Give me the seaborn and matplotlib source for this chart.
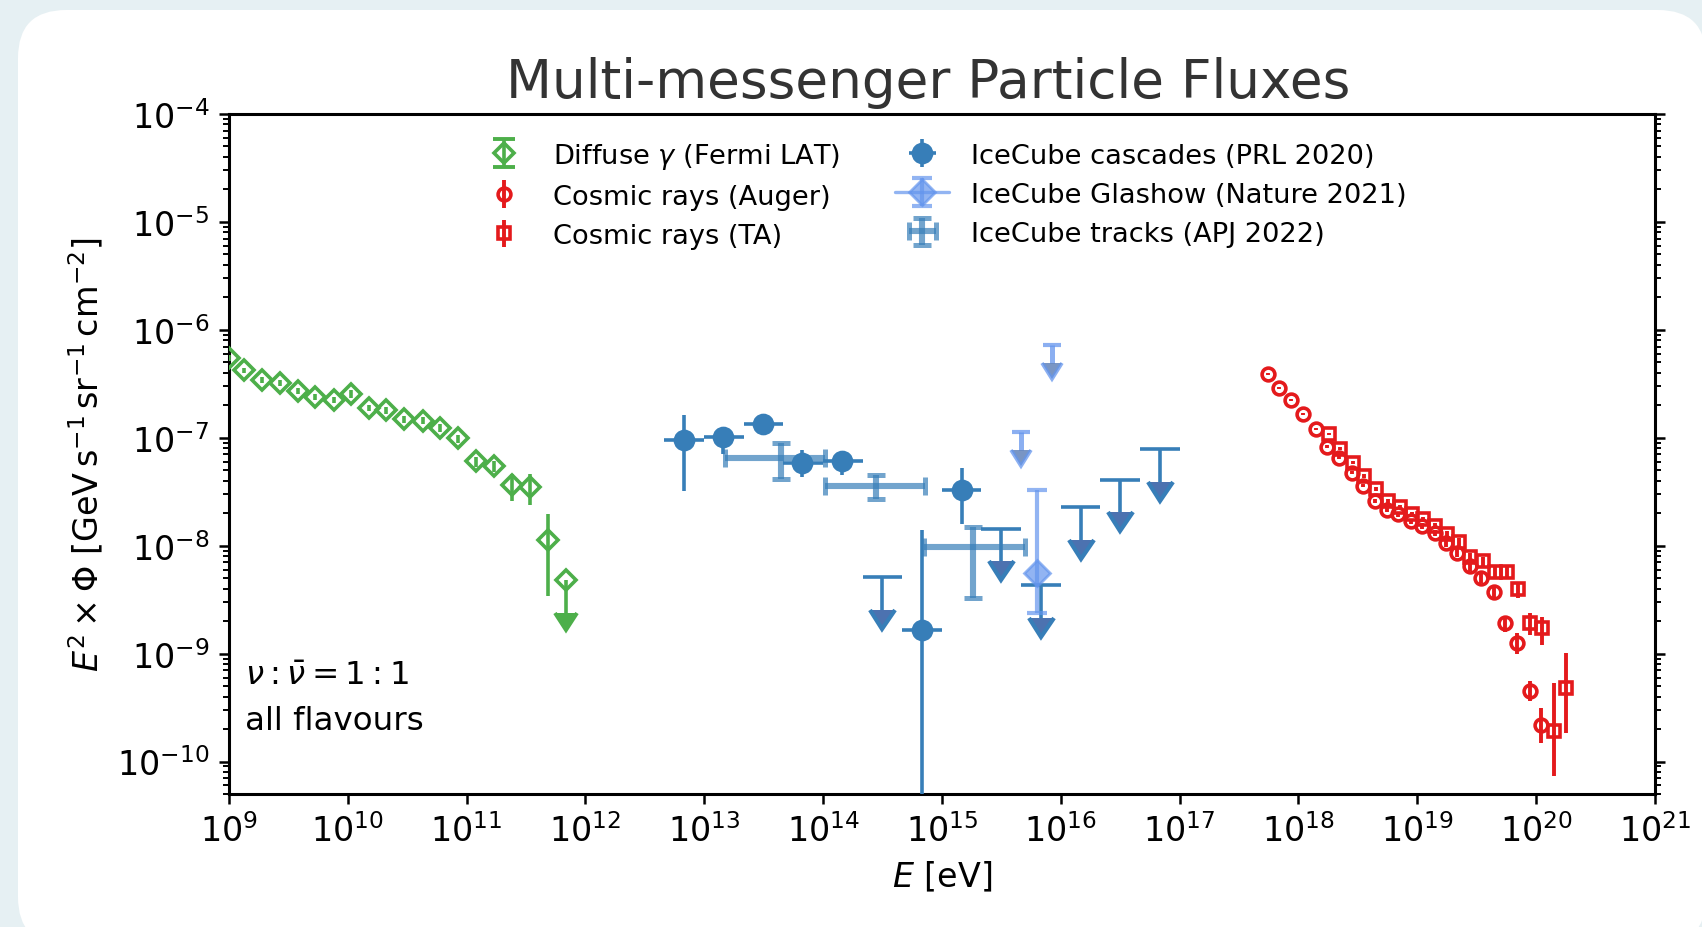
import numpy as np
import matplotlib
matplotlib.use("Agg")
import matplotlib.pyplot as plt
import seaborn as sns
from matplotlib.patches import FancyBboxPatch
from matplotlib.ticker import LogLocator, NullLocator, FixedLocator, LogFormatterMathtext

# ---------------- data ----------------
# Diffuse gamma, Fermi LAT
fermi_E = [1.0e9, 1.35e9, 1.9e9, 2.7e9, 3.8e9, 5.3e9, 7.6e9, 1.07e10, 1.5e10, 2.1e10,
           3.0e10, 4.3e10, 6.0e10, 8.5e10, 1.2e11, 1.7e11, 2.4e11, 3.4e11, 4.8e11, 6.8e11]
fermi_F = [5.47e-7, 4.2e-7, 3.44e-7, 3.2e-7, 2.71e-7, 2.41e-7, 2.25e-7, 2.55e-7, 1.9e-7, 1.79e-7,
           1.49e-7, 1.44e-7, 1.24e-7, 9.86e-8, 6.04e-8, 5.43e-8, 3.62e-8, 3.5e-8, 1.12e-8, 4.8e-9]
fermi_hi = [5.8e-7, 4.45e-7, 3.65e-7, 3.4e-7, 2.88e-7, 2.57e-7, 2.4e-7, 2.75e-7, 2.03e-7, 1.92e-7,
            1.6e-7, 1.55e-7, 1.34e-7, 1.07e-7, 6.7e-8, 6.1e-8, 4.57e-8, 4.57e-8, 1.95e-8, 4.8e-9]
fermi_lo = [5.15e-7, 3.95e-7, 3.23e-7, 3.0e-7, 2.54e-7, 2.25e-7, 2.1e-7, 2.35e-7, 1.77e-7, 1.66e-7,
            1.38e-7, 1.33e-7, 1.14e-7, 9.0e-8, 5.4e-8, 4.8e-8, 2.59e-8, 2.4e-8, 3.4e-9, 2.4e-9]
fermi_uplim = [False] * 19 + [True]

# Cosmic rays, Auger
auger_E = [5.5e17, 6.9e17, 8.7e17, 1.1e18, 1.4e18, 1.75e18, 2.2e18, 2.8e18, 3.5e18, 4.4e18,
           5.6e18, 6.9e18, 8.8e18, 1.1e19, 1.4e19, 1.73e19, 2.17e19, 2.75e19, 3.46e19, 4.4e19,
           5.5e19, 6.9e19, 8.8e19, 1.1e20]
auger_F = [3.87e-7, 2.91e-7, 2.22e-7, 1.65e-7, 1.20e-7, 8.26e-8, 6.53e-8, 4.74e-8, 3.61e-8, 2.62e-8,
           2.13e-8, 1.95e-8, 1.69e-8, 1.52e-8, 1.32e-8, 1.06e-8, 8.6e-9, 6.46e-9, 5.04e-9, 3.73e-9,
           1.92e-9, 1.26e-9, 4.48e-10, 2.19e-10]
auger_hi = [3.95e-7, 2.97e-7, 2.27e-7, 1.69e-7, 1.23e-7, 8.5e-8, 6.75e-8, 4.9e-8, 3.75e-8, 2.73e-8,
            2.23e-8, 2.05e-8, 1.78e-8, 1.62e-8, 1.41e-8, 1.14e-8, 9.3e-9, 7.1e-9, 5.6e-9, 4.2e-9,
            2.25e-9, 1.55e-9, 5.56e-10, 3.13e-10]
auger_lo = [3.79e-7, 2.85e-7, 2.17e-7, 1.61e-7, 1.17e-7, 8.0e-8, 6.3e-8, 4.58e-8, 3.47e-8, 2.51e-8,
            2.03e-8, 1.85e-8, 1.6e-8, 1.42e-8, 1.23e-8, 9.8e-9, 7.9e-9, 5.8e-9, 4.5e-9, 3.25e-9,
            1.6e-9, 1.0e-9, 3.63e-10, 1.48e-10]

# Cosmic rays, Telescope Array
ta_E = [1.79e18, 2.24e18, 2.85e18, 3.57e18, 4.5e18, 5.66e18, 7.1e18, 9.0e18, 1.12e19, 1.41e19,
        1.77e19, 2.22e19, 2.79e19, 3.55e19, 4.54e19, 5.69e19, 7.05e19, 8.83e19, 1.12e20, 1.4e20,
        1.78e20]
ta_F = [1.08e-7, 7.93e-8, 5.87e-8, 4.42e-8, 3.37e-8, 2.59e-8, 2.28e-8, 1.95e-8, 1.75e-8, 1.52e-8,
        1.29e-8, 1.08e-8, 7.88e-9, 7.2e-9, 5.69e-9, 5.69e-9, 3.93e-9, 1.92e-9, 1.73e-9, 1.9e-10,
        4.8e-10]
ta_hi = [1.11e-7, 8.15e-8, 6.05e-8, 4.57e-8, 3.5e-8, 2.7e-8, 2.39e-8, 2.05e-8, 1.85e-8, 1.62e-8,
         1.38e-8, 1.17e-8, 8.6e-9, 7.9e-9, 6.4e-9, 6.5e-9, 4.6e-9, 2.39e-9, 2.2e-9, 5.35e-10,
         1.01e-9]
ta_lo = [1.05e-7, 7.7e-8, 5.7e-8, 4.27e-8, 3.24e-8, 2.48e-8, 2.17e-8, 1.85e-8, 1.65e-8, 1.42e-8,
         1.2e-8, 9.9e-9, 7.2e-9, 6.5e-9, 5.0e-9, 4.9e-9, 3.3e-9, 1.5e-9, 1.21e-9, 7.3e-11,
         1.84e-10]

# IceCube cascades (PRL 2020): measured bins
casc_E = [6.7e12, 1.45e13, 3.13e13, 6.7e13, 1.44e14, 6.8e14, 1.46e15]
casc_Emin = [4.6e12, 1.0e13, 2.15e13, 4.6e13, 1.0e14, 4.6e14, 1.0e15]
casc_Emax = [1.0e13, 2.15e13, 4.6e13, 1.0e14, 2.15e14, 1.0e15, 2.15e15]
casc_F = [9.57e-8, 1.01e-7, 1.33e-7, 5.87e-8, 6.04e-8, 1.64e-9, 3.25e-8]
casc_hi = [1.63e-7, 1.26e-7, 1.40e-7, 7.76e-8, 7.53e-8, 1.39e-8, 5.27e-8]
casc_lo = [3.2e-8, 7.1e-8, 1.26e-7, 4.33e-8, 4.48e-8, 1.0e-11, 1.6e-8]
# IceCube cascades: upper limits
casc_ul_E = [3.15e14, 3.15e15, 6.8e15, 1.47e16, 3.15e16, 6.8e16]
casc_ul_Emin = [2.15e14, 2.15e15, 4.6e15, 1.0e16, 2.15e16, 4.6e16]
casc_ul_Emax = [4.6e14, 4.6e15, 1.0e16, 2.15e16, 4.6e16, 1.0e17]
casc_ul_F = [5.1e-9, 1.44e-8, 4.28e-9, 2.28e-8, 4.06e-8, 7.8e-8]

# IceCube Glashow (Nature 2021)
glashow_E = [6.3e15]
glashow_F = [5.6e-9]
glashow_hi = [3.3e-8]
glashow_lo = [2.4e-9]
glashow_ul_E = [4.6e15, 8.5e15]
glashow_ul_F = [1.13e-7, 7.2e-7]

# IceCube tracks (APJ 2022)
tracks_E = [4.4e13, 2.79e14, 1.82e15]
tracks_Emin = [1.5e13, 1.04e14, 7.1e14]
tracks_Emax = [1.04e14, 7.24e14, 5.0e15]
tracks_F = [6.53e-8, 3.56e-8, 9.77e-9]
tracks_hi = [9.0e-8, 4.48e-8, 1.5e-8]
tracks_lo = [4.17e-8, 2.69e-8, 3.3e-9]

x_ticks = [10.0 ** k for k in range(9, 22)]
y_ticks = [10.0 ** k for k in range(-10, -3)]

# ---------------- style ----------------
sns.set_theme(context="paper", style="ticks")
plt.rcParams.update({
    "font.family": ["DejaVu Sans"],
    "mathtext.fontset": "dejavusans",
    "axes.linewidth": 1.1,
    "axes.edgecolor": "black",
    "axes.labelcolor": "black",
    "text.color": "black",
    "xtick.color": "black",
    "ytick.color": "black",
    "xtick.direction": "out",
    "ytick.direction": "out",
    "xtick.major.size": 3.5,
    "ytick.major.size": 3.5,
    "ytick.minor.size": 2.0,
    "xtick.major.width": 0.9,
    "ytick.major.width": 0.9,
    "ytick.minor.width": 0.7,
    "xtick.labelsize": 12,
    "ytick.labelsize": 12,
    "axes.labelsize": 12,
    "legend.fontsize": 9.8,
})

pal = sns.color_palette("Set1")
red, blue, green = pal[0], pal[1], pal[2]
glashow_col = "#6495ed"


def err(F, lo, hi):
    F = np.asarray(F); lo = np.asarray(lo); hi = np.asarray(hi)
    return np.vstack([F - lo, hi - F])


def xerr_from(E, Emin, Emax):
    E = np.asarray(E)
    return np.vstack([E - np.asarray(Emin), np.asarray(Emax) - E])


def set_carets(cont, ms, mew=1.0):
    for ln in cont.lines[1]:
        if ln.get_marker() in (8, 9, 10, 11):
            ln.set_markersize(ms)
            ln.set_markeredgewidth(mew)


fig = plt.figure(figsize=(8.51, 4.64), dpi=200)
fig.patch.set_facecolor("#e6f0f3")
card = FancyBboxPatch((0.09, -0.09), 8.44, 4.675,
                      boxstyle="round,pad=0,rounding_size=0.24",
                      transform=fig.dpi_scale_trans, facecolor="white",
                      edgecolor="none", zorder=-10)
fig.add_artist(card)

ax = fig.add_axes([0.1345, 0.1433, 0.8379, 0.7328])
ax.set_facecolor("white")

# Fermi LAT
c = ax.errorbar(fermi_E, fermi_F, yerr=err(fermi_F, fermi_lo, np.maximum(fermi_hi, fermi_F)),
                uplims=fermi_uplim, fmt="D", ms=5.2, mfc="none", mec=green, mew=1.3,
                color=green, elinewidth=1.3, capsize=0, zorder=3,
                label=r"Diffuse $\gamma$ (Fermi LAT)")
set_carets(c, 8.0, 1.4)

# Auger
ax.errorbar(auger_E, auger_F, yerr=err(auger_F, auger_lo, auger_hi), fmt="o", ms=4.6,
            mfc="none", mec=red, mew=1.3, color=red, elinewidth=1.4, capsize=0, zorder=3,
            label="Cosmic rays (Auger)")
# TA
ax.errorbar(ta_E, ta_F, yerr=err(ta_F, ta_lo, ta_hi), fmt="s", ms=4.4,
            mfc="none", mec=red, mew=1.3, color=red, elinewidth=1.4, capsize=0, zorder=3,
            label="Cosmic rays (TA)")

# IceCube tracks
ax.errorbar(tracks_E, tracks_F, xerr=xerr_from(tracks_E, tracks_Emin, tracks_Emax),
            yerr=err(tracks_F, tracks_lo, tracks_hi), fmt="none", ecolor=blue,
            elinewidth=2.2, capsize=3.4, capthick=1.8, alpha=0.7, zorder=2,
            label="IceCube tracks (APJ 2022)")

# IceCube cascades
ax.errorbar(casc_E, casc_F, xerr=xerr_from(casc_E, casc_Emin, casc_Emax),
            yerr=err(casc_F, casc_lo, casc_hi), fmt="o", ms=6.8, color=blue,
            elinewidth=1.3, capsize=0, zorder=3, label="IceCube cascades (PRL 2020)")
c = ax.errorbar(casc_ul_E, casc_ul_F, xerr=xerr_from(casc_ul_E, casc_ul_Emin, casc_ul_Emax),
                yerr=0.5 * np.asarray(casc_ul_F), uplims=True, fmt="none", ecolor=blue,
                elinewidth=1.3, capsize=0, zorder=3)
set_carets(c, 9.0, 1.5)

# IceCube Glashow
ax.errorbar(glashow_E, glashow_F, yerr=err(glashow_F, glashow_lo, glashow_hi), fmt="D-",
            ms=6.6, color=glashow_col, mec=glashow_col, elinewidth=1.5, capsize=3.5,
            capthick=1.5, alpha=0.7, zorder=4, label="IceCube Glashow (Nature 2021)")
c = ax.errorbar(glashow_ul_E, glashow_ul_F, yerr=0.32 * np.asarray(glashow_ul_F), uplims=True,
                fmt="none", ecolor=glashow_col, elinewidth=1.8, capsize=3.2, capthick=1.5,
                alpha=0.75, zorder=4)
set_carets(c, 7.5, 1.3)

ax.set_xscale("log")
ax.set_yscale("log")
ax.set_xlim(1e9, 1e21)
ax.set_ylim(5e-11, 1e-4)
ax.xaxis.set_major_locator(FixedLocator(x_ticks))
ax.xaxis.set_major_formatter(LogFormatterMathtext())
ax.xaxis.set_minor_locator(NullLocator())
ax.yaxis.set_major_locator(FixedLocator(y_ticks))
ax.yaxis.set_major_formatter(LogFormatterMathtext())
ax.yaxis.set_minor_locator(LogLocator(base=10, subs=np.arange(2, 10), numticks=20))
ax.tick_params(axis="y", which="both", left=True, right=True, labelright=False)
ax.tick_params(axis="x", which="both", top=False, bottom=True)
for s in ax.spines.values():
    s.set_visible(True)
    s.set_linewidth(1.1)

ax.set_xlabel(r"$E$ [eV]")
ax.set_ylabel(r"$E^2 \times \Phi\ [\mathrm{GeV\,s^{-1}\,sr^{-1}\,cm^{-2}}]$")
ax.set_title("Multi-messenger Particle Fluxes", fontsize=19.2, color="#333333", pad=6,
             x=0.49)

ax.text(0.011, 0.085, r"$\nu : \bar{\nu} = 1 : 1$" + "\n" + "all flavours",
        transform=ax.transAxes, ha="left", va="bottom", fontsize=11.7, linespacing=1.58)

handles, labels = ax.get_legend_handles_labels()
order = ["Diffuse", "Cosmic rays (Auger)", "Cosmic rays (TA)", "IceCube cascades",
         "IceCube Glashow", "IceCube tracks"]
idx = [next(i for i, l in enumerate(labels) if key in l) for key in order]
ax.legend([handles[i] for i in idx], [labels[i] for i in idx], loc="upper center",
          bbox_to_anchor=(0.5, 0.997), ncol=2, frameon=False, fontsize=9.8,
          labelspacing=0.48, columnspacing=2.0)

fig.savefig("out.png", dpi=200, facecolor=fig.get_facecolor())
